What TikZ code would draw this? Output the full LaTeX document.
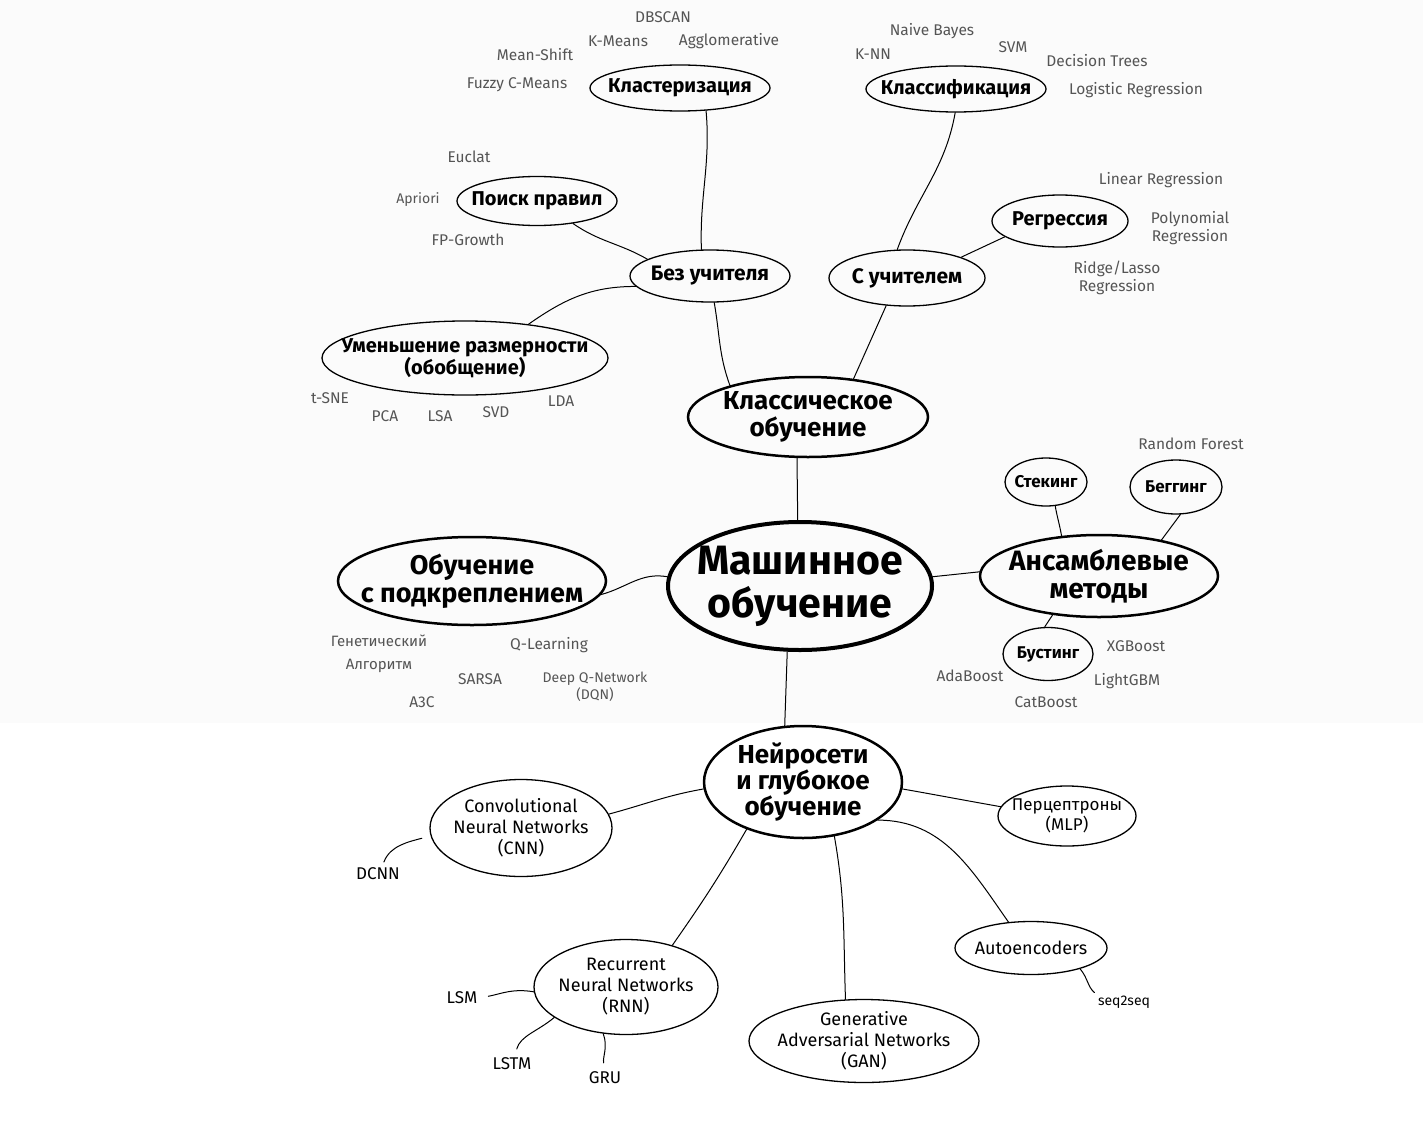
\documentclass[tikz,border=0pt]{standalone}
\usepackage{fontspec}
\setmainfont{Fira Sans}
\usetikzlibrary{shapes.geometric}
\definecolor{leafgray}{HTML}{555555}
\definecolor{topbg}{HTML}{FBFBFB}
\begin{document}
\begin{tikzpicture}[x=1pt,y=1pt,
  oval/.style 2 args={ellipse, draw, line width=1.3pt, inner sep=0pt, minimum width=#1, minimum height=#2},
  ovtxt/.style={align=center, inner sep=0pt, font=\fontsize{20}{23}\selectfont\bfseries},
  leaf/.style={align=center, inner sep=1pt, text=leafgray, font=\fontsize{15.5}{18}\selectfont},
  bleaf/.style={align=center, inner sep=1pt, text=black, font=\fontsize{17}{19}\selectfont},
  conn/.style={draw, line width=1pt, line cap=round}]
\useasboundingbox (0,0) rectangle (1423,-1121);
\fill[white] (0,0) rectangle (1423,-1121);
\fill[topbg] (0,0) rectangle (1423,-723);

% main ovals
\node[oval={264pt}{128pt}, line width=4pt] (ml) at (800,-586) {};
\node[ovtxt, font=\fontsize{41}{43}\selectfont\bfseries] (mlt) at (ml) {Машинное\\обучение};
\node[oval={240pt}{80pt}, line width=2.5pt] (klass) at (808,-417) {};
\node[ovtxt, font=\fontsize{26}{27}\selectfont\bfseries] (klasst) at (klass) {Классическое\\обучение};
\node[oval={160pt}{52pt}] (bez) at (710,-276) {};
\node[ovtxt, font=\fontsize{21}{23}\selectfont\bfseries] (bezt) at (bez) {Без учителя};
\node[oval={156pt}{56pt}] (suc) at (907,-278) {};
\node[ovtxt, font=\fontsize{21}{23}\selectfont\bfseries] (suct) at (suc) {С учителем};
\node[oval={180pt}{46pt}] (klast) at (680,-88) {};
\node[ovtxt] (klastt) at (klast) {Кластеризация};
\node[oval={180pt}{46pt}] (klassif) at (956,-89) {};
\node[ovtxt] (klassift) at (klassif) {Классификация};
\node[oval={160pt}{49pt}] (poisk) at (537,-201) {};
\node[ovtxt] (poiskt) at (poisk) {Поиск правил};
\node[oval={136pt}{52pt}] (regr) at (1060,-221) {};
\node[ovtxt] (regrt) at (regr) {Регрессия};
\node[oval={286pt}{74pt}] (umen) at (465,-358) {};
\node[ovtxt, font=\fontsize{20}{22}\selectfont\bfseries] (ument) at (umen) {Уменьшение размерности\\(обобщение)};
\node[oval={268pt}{88pt}, line width=2.5pt] (rl) at (472,-581) {};
\node[ovtxt, font=\fontsize{27}{28}\selectfont\bfseries] (rlt) at (rl) {Обучение\\с подкреплением};
\node[oval={238pt}{82pt}, line width=2.5pt] (ans) at (1099,-576) {};
\node[ovtxt, font=\fontsize{28}{28}\selectfont\bfseries] (anst) at (ans) {Ансамблевые\\методы};
\node[oval={82pt}{48pt}] (stek) at (1046,-482) {};
\node[ovtxt, font=\fontsize{17}{19}\selectfont\bfseries] (stekt) at (stek) {Стекинг};
\node[oval={92pt}{54pt}] (beg) at (1176,-487) {};
\node[ovtxt, font=\fontsize{17}{19}\selectfont\bfseries] (begt) at (beg) {Беггинг};
\node[oval={90pt}{53pt}] (bust) at (1048,-654) {};
\node[ovtxt, font=\fontsize{17}{19}\selectfont\bfseries] (bustt) at (bust) {Бустинг};
\node[oval={198pt}{112pt}, line width=2.5pt] (nn) at (803,-782) {};
\node[ovtxt, font=\fontsize{26}{26}\selectfont\bfseries] (nnt) at (nn) {Нейросети\\и глубокое\\обучение};
\node[oval={182pt}{97pt}] (cnn) at (521,-828) {};
\node[ovtxt, font=\fontsize{18}{21}\selectfont] (cnnt) at (cnn) {Convolutional\\Neural Networks\\(CNN)};
\node[oval={138pt}{60pt}] (mlp) at (1067,-816) {};
\node[ovtxt, font=\fontsize{17}{20}\selectfont] (mlpt) at (mlp) {Перцептроны\\(MLP)};
\node[oval={152pt}{53pt}] (auto) at (1031,-948) {};
\node[ovtxt, font=\fontsize{18}{21}\selectfont] (autot) at (auto) {Autoencoders};
\node[oval={184pt}{95pt}] (rnn) at (626,-987) {};
\node[ovtxt, font=\fontsize{18}{21}\selectfont] (rnnt) at (rnn) {Recurrent\\Neural Networks\\(RNN)};
\node[oval={230pt}{83pt}] (gan) at (864,-1041) {};
\node[ovtxt, font=\fontsize{18}{21}\selectfont] (gant) at (gan) {Generative\\Adversarial Networks\\(GAN)};

% leaves
\node[leaf] (dbscan) at (663,-17) {DBSCAN};
\node[leaf] (kmeans) at (618,-41) {K-Means};
\node[leaf] (agglo) at (729,-41) {Agglomerative};
\node[leaf] (meanshift) at (535,-55) {Mean-Shift};
\node[leaf] (fuzzy) at (517,-85) {Fuzzy C-Means};
\node[leaf] (naive) at (932,-31) {Naive Bayes};
\node[leaf] (svm) at (1013,-47) {SVM};
\node[leaf] (knn) at (873,-54) {K-NN};
\node[leaf] (dtree) at (1097,-61) {Decision Trees};
\node[leaf] (logreg) at (1136,-90) {Logistic Regression};
\node[leaf] (euclat) at (469,-157) {Euclat};
\node[leaf, font=\fontsize{14}{16}\selectfont] (apriori) at (418,-200) {Apriori};
\node[leaf] (fpg) at (468,-240) {FP-Growth};
\node[leaf] (linreg) at (1161,-180) {Linear Regression};
\node[leaf] (polyreg) at (1190,-228) {Polynomial\\Regression};
\node[leaf] (ridge) at (1117,-278) {Ridge/Lasso\\Regression};
\node[leaf] (tsne) at (330,-398) {t-SNE};
\node[leaf] (pca) at (385,-416) {PCA};
\node[leaf] (lsa) at (440,-416) {LSA};
\node[leaf] (svd) at (496,-412) {SVD};
\node[leaf] (lda) at (561,-401) {LDA};
\node[leaf] (rf) at (1191,-444) {Random Forest};
\node[leaf] (xgb) at (1136,-646) {XGBoost};
\node[leaf] (ada) at (970,-676) {AdaBoost};
\node[leaf] (lgbm) at (1127,-681) {LightGBM};
\node[leaf] (cat) at (1046,-702) {CatBoost};
\node[leaf, font=\fontsize{15}{23}\selectfont] (genet) at (379,-654) {Генетический\\Алгоритм};
\node[leaf] (qlearn) at (549,-645) {Q-Learning};
\node[leaf] (sarsa) at (480,-679) {SARSA};
\node[leaf, font=\fontsize{14}{17}\selectfont] (dqn) at (595,-687) {Deep Q-Network\\(DQN)};
\node[leaf] (a3c) at (422,-702) {A3C};
\node[bleaf] (dcnn) at (378,-874) {DCNN};
\node[bleaf, font=\fontsize{14}{16}\selectfont] (seq) at (1124,-1002) {seq2seq};
\node[bleaf] (lsm) at (462,-998) {LSM};
\node[bleaf] (lstm) at (512,-1064) {LSTM};
\node[bleaf] (gru) at (605,-1078) {GRU};

% connectors
\draw[conn] (ml.92) -- (klass.-105);
\draw[conn] (bez.-81) to[out=-80,in=110] (klass.158);
\draw[conn] (klass.40) -- (suc.-127);
\draw[conn] (bez.108) to[out=92,in=-85] (klast.-41);
\draw[conn] (bez.165) to[out=150,in=-35] (poisk.-32);
\draw[conn] (bez.188) to[out=180,in=35] (umen.28);
\draw[conn] (suc.109) to[out=70,in=-100] (klassif.-92);
\draw[conn] (suc.21) -- (regr.196);
\draw[conn] (ml.176) to[out=170,in=15] (rl.-6);
\draw[conn] (ml.4) -- (ans.178);
\draw[conn] (stek.-69) to[out=-80,in=100] (ans.133);
\draw[conn] (ans.30) -- (beg.-81);
\draw[conn] (ans.-140) -- (bust.97);
\draw[conn] (ml.-101) -- (nn.108);
\draw[conn] (nn.184) to[out=190,in=15] (cnn.9);
\draw[conn] (nn.-4) to[out=-10,in=170] (mlp.172);
\draw[conn] (nn.-140) to[out=-120,in=55] (rnn.42);
\draw[conn] (nn.-60) to[out=-80,in=92] (gan.114);
\draw[conn] (nn.-27) to[out=0,in=125] (auto.131);
\draw[conn, shorten <=9pt, shorten >=5pt] (cnn.185) to[out=195,in=70] (dcnn.60);
\draw[conn, shorten >=3pt] (auto.-23) to[out=-50,in=140] (seq.north west);
\draw[conn, shorten >=10pt] (rnn.183) to[out=170,in=10] (lsm.east);
\draw[conn, shorten >=8pt] (rnn.203) to[out=220,in=75] (lstm.70);
\draw[conn, shorten >=8pt] (rnn.-116) to[out=-70,in=100] (gru.north);
\end{tikzpicture}
\end{document}
